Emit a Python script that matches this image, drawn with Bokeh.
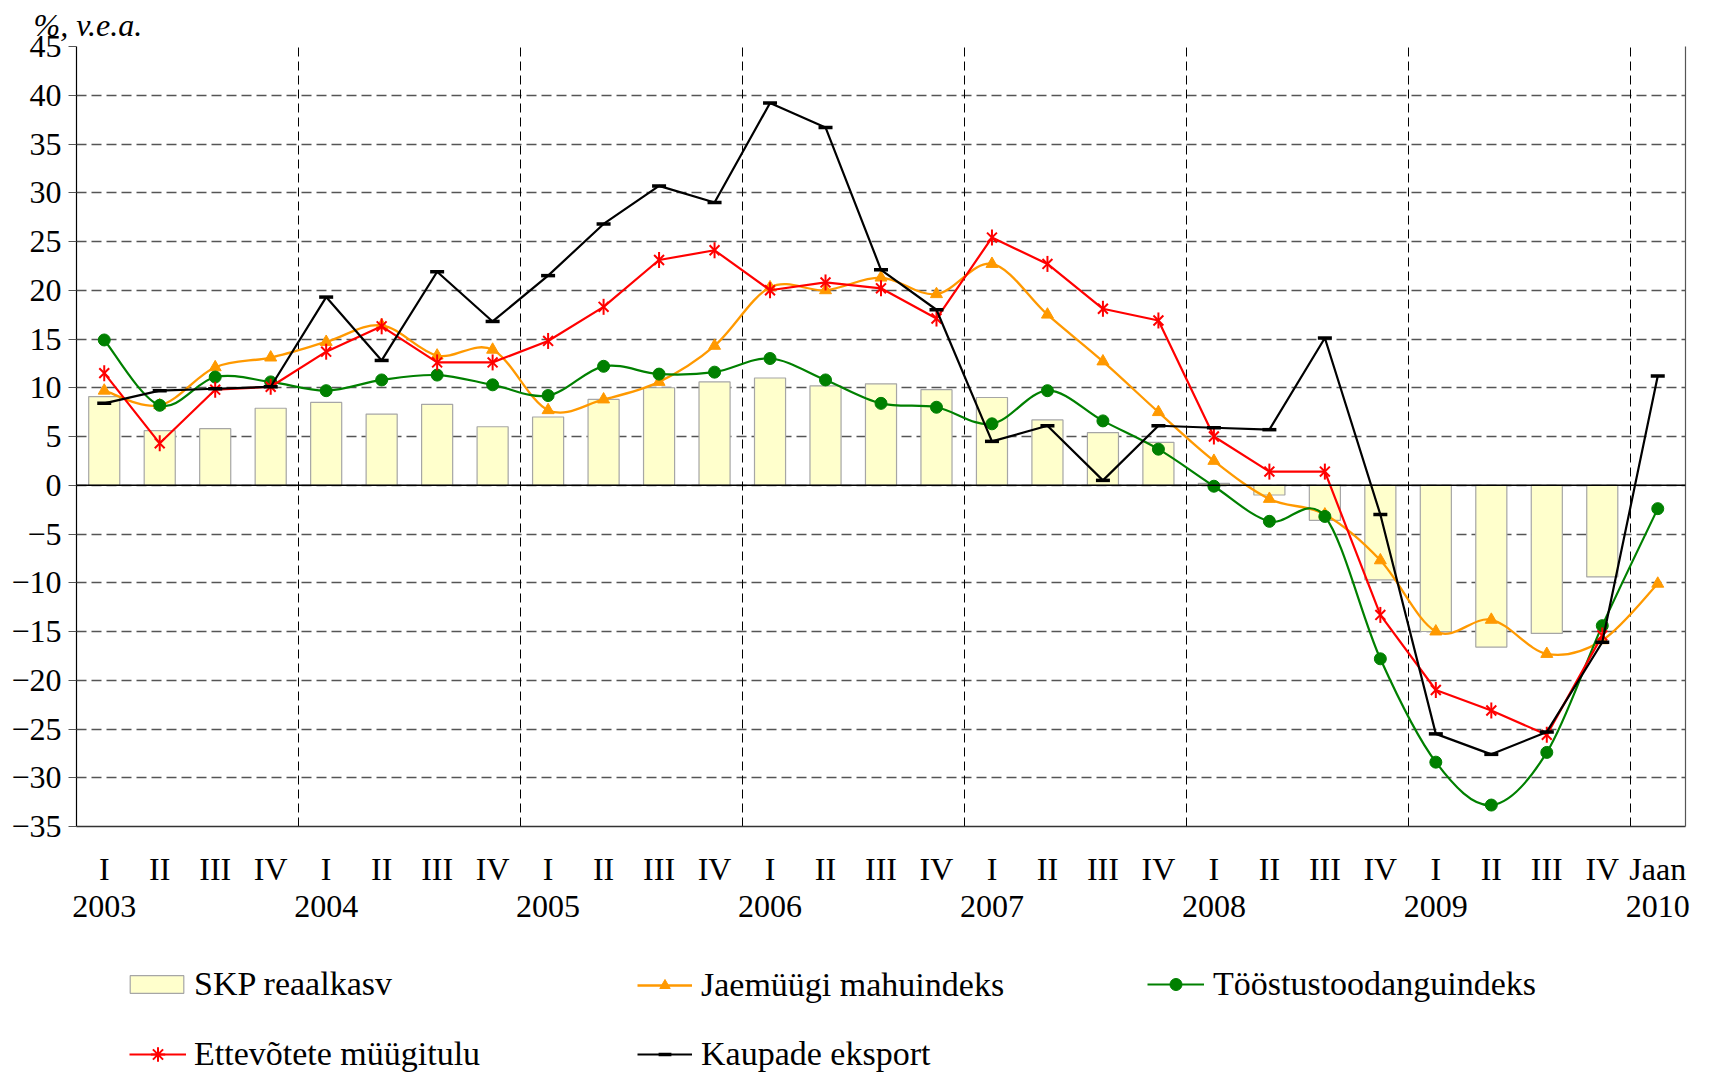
import numpy as np
from bokeh.plotting import figure
from bokeh.layouts import column
from bokeh.models import (Range1d, FixedTicker, LinearAxis, Span, Legend,
                          LegendItem, Grid)
from bokeh.embed import file_html
from bokeh.resources import INLINE

# ---------------- data ----------------
quarters = ["I", "II", "III", "IV"] * 7 + ["Jaan"]
years = ["2003", "2004", "2005", "2006", "2007", "2008", "2009", "2010"]

gdp = [9.1, 5.6, 5.8, 7.9, 8.5, 7.3, 8.3, 6.0, 7.0, 8.8, 10.0, 10.6, 11.0, 10.2,
       10.4, 9.8, 9.0, 6.7, 5.4, 4.4, 0.2, -1.0, -3.6, -9.7, -15.0, -16.6, -15.2, -9.4]
retail = [9.7, 8.2, 12.1, 13.1, 14.7, 16.4, 13.3, 13.9, 7.7, 8.8, 10.6, 14.3, 20.3, 20.0,
          21.3, 19.6, 22.7, 17.5, 12.7, 7.5, 2.5, -1.4, -3.0, -7.7, -15.0, -13.8, -17.3,
          -15.9, -10.1]
industry = [14.9, 8.2, 11.1, 10.6, 9.7, 10.8, 11.3, 10.3, 9.2, 12.2, 11.4, 11.6, 13.0,
            10.8, 8.4, 8.0, 6.3, 9.7, 6.6, 3.7, -0.1, -3.7, -3.2, -17.8, -28.4, -32.8,
            -27.4, -14.4, -2.4]
sales = [11.5, 4.3, 9.8, 10.1, 13.7, 16.3, 12.6, 12.6, 14.8, 18.3, 23.1, 24.1, 20.0,
         20.8, 20.2, 17.1, 25.4, 22.7, 18.1, 16.9, 5.0, 1.4, 1.4, -13.3, -21.0, -23.1,
         -25.6, -15.4]
exports = [8.4, 9.7, 9.9, 10.1, 19.3, 12.8, 21.9, 16.8, 21.5, 26.8, 30.7, 29.0, 39.2,
           36.7, 22.1, 18.0, 4.5, 6.1, 0.5, 6.1, 5.9, 5.7, 15.1, -3.0, -25.5, -27.6,
           -25.3, -16.1, 11.2]

names = ["SKP reaalkasv", "Jaemüügi mahuindeks", "Tööstustoodanguindeks",
         "Ettevõtete müügitulu", "Kaupade eksport"]
y_unit = "%, v.e.a."

FONT = "Liberation Serif"
FS = "32px"
LEG_FS = "34px"
ORANGE = "#FF9900"
GREEN = "#008000"
RED = "#FF0000"
BAR_FILL = "#FFFFCC"
BAR_LINE = "#A6A6A6"

p = figure(width=1709, height=926, output_backend="svg", toolbar_location=None,
           x_range=Range1d(-0.5, 28.5), y_range=Range1d(-35, 45),
           min_border_left=76, min_border_right=24, min_border_top=46,
           min_border_bottom=100, x_axis_type=None, y_axis_type=None)
p.outline_line_color = None

# title (unit)
p.title.text = y_unit
p.title.text_font = FONT
p.title.text_font_style = "italic"
p.title.text_font_size = FS
p.title.text_color = "black"
p.title.align = "left"
p.title.offset = -43
p.title.standoff = 8

# y axis
yax = LinearAxis(ticker=FixedTicker(ticks=list(range(-35, 50, 5))))
yax.axis_line_color = "black"
yax.axis_line_width = 1.2
yax.major_tick_out = 8
yax.major_tick_in = 0
yax.major_tick_line_color = "#555555"
yax.minor_tick_line_color = None
yax.major_label_standoff = 7
yax.major_label_text_font = FONT
yax.major_label_text_font_size = FS
yax.major_label_text_color = "black"
p.add_layout(yax, "left")

# right border
rax = LinearAxis(ticker=FixedTicker(ticks=[]))
rax.axis_line_color = "#555555"
rax.axis_line_width = 1.2
rax.major_tick_line_color = None
rax.minor_tick_line_color = None
rax.major_label_text_font_size = "0px"
p.add_layout(rax, "right")

# quarter axis
xq = list(range(len(quarters)))
qax = LinearAxis(ticker=FixedTicker(ticks=xq),
                 major_label_overrides={i: q for i, q in enumerate(quarters)})
qax.axis_line_color = "#333333"
qax.axis_line_width = 1.5
qax.major_tick_line_color = None
qax.minor_tick_line_color = None
qax.major_label_standoff = 18
qax.major_label_text_font = FONT
qax.major_label_text_font_size = FS
qax.major_label_text_color = "black"
p.add_layout(qax, "below")

# year axis
yr_ticks = list(range(0, 29, 4))
yrax = LinearAxis(ticker=FixedTicker(ticks=yr_ticks),
                  major_label_overrides={t: y for t, y in zip(yr_ticks, years)})
yrax.axis_line_color = None
yrax.major_tick_line_color = None
yrax.minor_tick_line_color = None
yrax.major_label_standoff = 0
yrax.major_label_text_font = FONT
yrax.major_label_text_font_size = FS
yrax.major_label_text_color = "black"
p.add_layout(yrax, "below")

# grids
hgrid = Grid(dimension=1, ticker=FixedTicker(ticks=list(range(-35, 50, 5))),
             grid_line_color="#555555", grid_line_dash="10 5", grid_line_width=1.3)
vgrid = Grid(dimension=0, ticker=FixedTicker(ticks=[3.5, 7.5, 11.5, 15.5, 19.5, 23.5, 27.5]),
             grid_line_color="black", grid_line_dash="9 5", grid_line_width=1)
p.add_layout(hgrid)
p.add_layout(vgrid)

# bars
p.vbar(x=list(range(len(gdp))), top=gdp, bottom=0, width=0.56,
       fill_color=BAR_FILL, line_color=BAR_LINE, line_width=1.2)

p.add_layout(Span(location=0, dimension="width", line_color="black", line_width=1.4))


def bezier_parts(xs, ys):
    xs = np.asarray(xs, float)
    ys = np.asarray(ys, float)
    n = len(xs)
    out = {k: [] for k in ["x0", "y0", "x1", "y1", "cx0", "cy0", "cx1", "cy1"]}
    for i in range(n - 1):
        a = i - 1 if i > 0 else i
        d = i + 2 if i + 2 < n else i + 1
        out["x0"].append(xs[i]); out["y0"].append(ys[i])
        out["x1"].append(xs[i + 1]); out["y1"].append(ys[i + 1])
        out["cx0"].append(xs[i] + (xs[i + 1] - xs[a]) / 6)
        out["cy0"].append(ys[i] + (ys[i + 1] - ys[a]) / 6)
        out["cx1"].append(xs[i + 1] - (xs[d] - xs[i]) / 6)
        out["cy1"].append(ys[i + 1] - (ys[d] - ys[i]) / 6)
    return out


# retail (smoothed)
xr = list(range(len(retail)))
p.bezier(**bezier_parts(xr, retail), line_color=ORANGE, line_width=2.3)
p.scatter(x=xr, y=retail, marker="triangle", size=12, fill_color=ORANGE, line_color=ORANGE)

# industry (smoothed)
xi = list(range(len(industry)))
p.bezier(**bezier_parts(xi, industry), line_color=GREEN, line_width=2.2)
p.scatter(x=xi, y=industry, marker="circle", size=12, fill_color=GREEN, line_color=GREEN)

# sales
xs_ = list(range(len(sales)))
p.line(x=xs_, y=sales, line_color=RED, line_width=2.2)
p.scatter(x=xs_, y=sales, marker="x", size=14, line_color=RED, line_width=2)
p.scatter(x=xs_, y=sales, marker="dash", angle=np.pi / 2, size=16, line_color=RED, line_width=2)

# exports
xe = list(range(len(exports)))
p.line(x=xe, y=exports, line_color="black", line_width=2.2)
p.scatter(x=xe, y=exports, marker="dash", size=14, line_color="black", line_width=3.5)

# ---------------- legend strip ----------------
LH = 150
q = figure(width=1709, height=LH, output_backend="svg", toolbar_location=None,
           x_range=Range1d(0, 1709), y_range=Range1d(0, LH), min_border=0,
           x_axis_type=None, y_axis_type=None)
q.outline_line_color = None
q.xgrid.visible = False
q.ygrid.visible = False

nan = [np.nan]
lr_bar = q.vbar(x=nan, top=nan, width=1, fill_color=BAR_FILL, line_color=BAR_LINE, line_width=1.2)
lr_o = [q.line(x=nan, y=nan, line_color=ORANGE, line_width=2.3),
        q.scatter(x=nan, y=nan, marker="triangle", fill_color=ORANGE, line_color=ORANGE)]
lr_g = [q.line(x=nan, y=nan, line_color=GREEN, line_width=2.2),
        q.scatter(x=nan, y=nan, marker="circle", fill_color=GREEN, line_color=GREEN)]
lr_r = [q.line(x=nan, y=nan, line_color=RED, line_width=2.2),
        q.scatter(x=nan, y=nan, marker="asterisk", line_color=RED, line_width=2)]
lr_k = [q.line(x=nan, y=nan, line_color="black", line_width=2.2),
        q.scatter(x=nan, y=nan, marker="dash", line_color="black", line_width=3.5)]

LBL_H = 40
FRAME_LEFT = 76  # the strip's frame is aligned with the chart's frame


def add_legend(label, rends, left, cy, gw, gh, standoff):
    lg = Legend(items=[LegendItem(label=label, renderers=rends)],
                location=(left - FRAME_LEFT, LH - (cy + LBL_H // 2)),
                orientation="vertical")
    lg.label_text_font = FONT
    lg.label_text_font_size = LEG_FS
    lg.label_text_color = "black"
    lg.label_text_baseline = "middle"
    lg.glyph_width = gw
    lg.glyph_height = gh
    lg.label_height = LBL_H
    lg.label_standoff = standoff
    lg.padding = 0
    lg.margin = 0
    lg.spacing = 0
    lg.border_line_color = None
    lg.background_fill_alpha = 0
    q.add_layout(lg, "center")


add_legend(names[0], [lr_bar], 123, 58, 67, 22, 4)
add_legend(names[1], lr_o, 637, 59, 55, 26, 9)
add_legend(names[2], lr_g, 1147, 58, 57, 30, 9)
add_legend(names[3], lr_r, 129, 128, 57, 36, 8)
add_legend(names[4], lr_k, 637, 128, 55, 32, 9)

layout = column(p, q, spacing=0)
open("out.html", "w").write(file_html(layout, INLINE))
